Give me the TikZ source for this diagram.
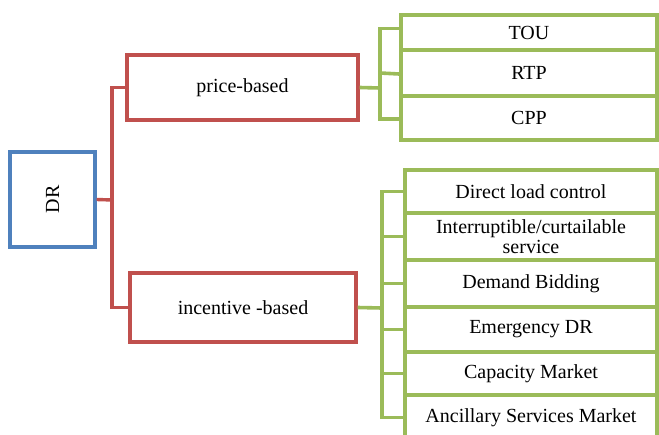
\documentclass[tikz,border=0pt]{standalone}
\usepackage{fontspec}
\setmainfont{Liberation Serif}
\usetikzlibrary{positioning}

\definecolor{drblue}{HTML}{4F81BD}
\definecolor{drred}{HTML}{C0504D}
\definecolor{drgreen}{HTML}{9BBB59}

\begin{document}
\begin{tikzpicture}[x=1pt,y=-1pt,
		every node/.style={font=\fontsize{20}{20}\selectfont,inner sep=0pt,align=center},
		rootbox/.style={draw=drblue,line width=3.4pt,minimum width=85pt,minimum height=95pt},
		typebox/.style={draw=drred,line width=3.4pt},
		progbox/.style={draw=drgreen,line width=3.6pt},
		redline/.style={draw=drred,line width=3.4pt},
		greenline/.style={draw=drgreen,line width=3.6pt}
		]
		\useasboundingbox (0,0) rectangle (659,434);
		\clip (0,0) rectangle (659,434);
		
		\node[rootbox] (dr) at (52.5,199.5) {\rotatebox{90}{DR}};
		\node[typebox,minimum width=231pt,minimum height=65pt] (price) at (242.5,87.5) {price-based};
		\node[typebox,minimum width=226pt,minimum height=69pt] (incent) at (243,307.5) {incentive -based};
		
		\node[progbox,minimum width=256pt,minimum height=35pt] (tou) at (529,32.5) {TOU};
		\node[progbox,minimum width=256pt,minimum height=46pt] (rtp) at (529,73) {RTP};
		\node[progbox,minimum width=256pt,minimum height=44pt] (cpp) at (529,118) {CPP};
		
		\node[progbox,minimum width=252pt,minimum height=43pt] (dlc) at (531,191.5) {Direct load control};
		\node[progbox,minimum width=252pt,minimum height=47pt] (ics) at (531,236.5) {Interruptible/curtailable\\service};
		\node[progbox,minimum width=252pt,minimum height=47pt] (bid) at (531,283.5) {Demand Bidding};
		\node[progbox,minimum width=252pt,minimum height=45pt] (edr) at (531,329.5) {Emergency DR};
		\node[progbox,minimum width=252pt,minimum height=43pt] (cap) at (531,373.5) {Capacity Market};
		\node[progbox,minimum width=252pt,minimum height=45pt] (anc) at (531,417.5) {Ancillary Services Market};
		
		\coordinate (rj) at (112,200);
		\coordinate (pj) at (380,88);
		\coordinate (ij) at (382,308);
		
		\draw[redline] (dr.east) -- (rj);
		\draw[redline] (price.west) -| (rj) |- (incent.west);
		
		\draw[greenline] (price.east) -- (pj);
		\draw[greenline] ([yshift=4pt]tou.west) -| (pj) |- ([yshift=-1pt]cpp.west);
		\draw[greenline] (pj |- rtp.west) -- ([yshift=-1pt]rtp.west);
		
		\draw[greenline] (incent.east) -- (ij);
		\draw[greenline] (dlc.west) -| (ij) |- (anc.west);
		\draw[greenline] (ij |- ics.west) -- (ics.west);
		\draw[greenline] (ij |- bid.west) -- (bid.west);
		\draw[greenline] (ij |- edr.west) -- (edr.west);
		\draw[greenline] (ij |- cap.west) -- (cap.west);
	\end{tikzpicture}
\end{document}
